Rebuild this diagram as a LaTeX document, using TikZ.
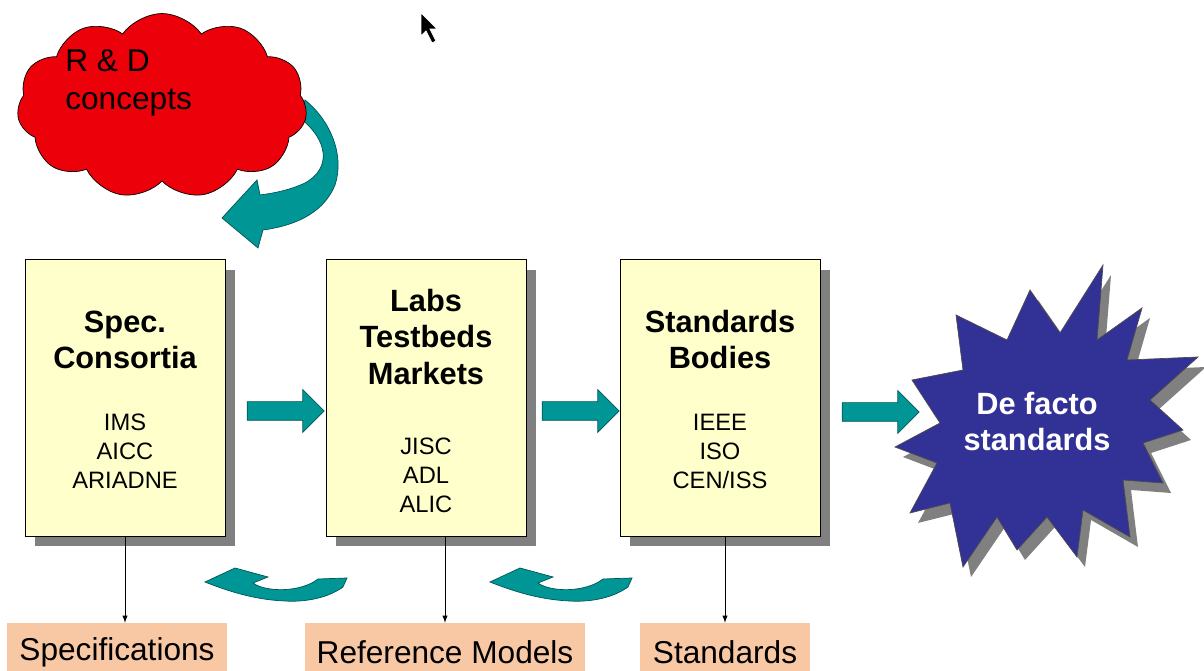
\documentclass[tikz,border=0pt]{standalone}
\usepackage{fontspec}
\setmainfont{Liberation Sans}
\usetikzlibrary{calc,positioning,shapes,arrows,shadows}

\definecolor{boxyellow}{RGB}{255,255,204}
\definecolor{labelpeach}{RGB}{248,200,165}
\definecolor{arrowteal}{RGB}{0,150,150}
\definecolor{tealedge}{RGB}{0,85,85}
\definecolor{cloudred}{RGB}{236,0,10}
\definecolor{starblue}{RGB}{50,50,150}
\definecolor{shadowgray}{RGB}{128,128,128}

\newcommand{\burstpath}{(956,315) -- (1007,340) -- (1030,290) -- (1060,333) -- (1103,265) -- (1097,340) -- (1142,308) -- (1127,360) -- (1198,357) -- (1150,400) -- (1183,430) -- (1143,443) -- (1163,483) -- (1123,480) -- (1130,537) -- (1083,510) -- (1077,557) -- (1047,517) -- (1017,550) -- (997,517) -- (963,567) -- (950,503) -- (910,513) -- (937,463) -- (895,447) -- (940,423) -- (912,380) -- (963,370) -- cycle}
\newcommand{\turnpath}{(205,582) -- (235,568) -- (268,577) -- (253,583) .. controls (265,592) and (300,593) .. (318,579) -- (347,578) -- (343,587) .. controls (325,600) and (300,602) .. (285,601) .. controls (260,600) and (235,594) .. (205,582) -- cycle}

\begin{document}
\begin{tikzpicture}[x=0.02cm,y=-0.02cm,inner sep=0.4mm,
  stage/.style={draw=black, fill=boxyellow, minimum width=4cm, minimum height=5.54cm,
    drop shadow={shadow xshift=0.2cm, shadow yshift=-0.2cm, fill=shadowgray, opacity=1}},
  stagetitle/.style={align=center, font=\fontsize{17.5}{20.5}\selectfont\bfseries},
  stagelist/.style={align=center, font=\fontsize{13.5}{16.5}\selectfont},
  outcome/.style={fill=labelpeach, minimum height=1.16cm, font=\fontsize{18}{21}\selectfont},
  flowarrow/.style={single arrow, draw=tealedge, fill=arrowteal, minimum height=1.54cm,
    text height=0.36cm, text depth=0pt, inner sep=0, single arrow head extend=0.24cm},
  turnarrow/.style={draw=tealedge, fill=arrowteal}]

\useasboundingbox (0,0) rectangle (1204,671);

\fill[black, draw=white] (421,13) -- (421,36) -- (426,31) -- (432,43) -- (436,41) -- (430,29) -- (437,29) -- cycle;

\draw[turnarrow] (300,118) .. controls (328,140) and (332,168) .. (305,183) .. controls (290,190) and (275,193) .. (260,195) -- (257,180) -- (222,218) -- (258,248) -- (263,230) .. controls (300,225) and (325,210) .. (335,185) .. controls (345,155) and (330,120) .. (305,100) -- cycle;

\node[cloud, cloud puffs=11, cloud puff arc=110, aspect=1.55, draw=black, fill=cloudred, minimum width=5.8cm, minimum height=3.7cm] (rd) at (162,106) {};
\node[font=\fontsize{18}{21.6}\selectfont, align=left, anchor=west] (rdtext) at (63,83) {R \& D\\concepts};

\node[stage] (b1) at (125,398) {};
\node[stage] (b2) at (426,398) {};
\node[stage] (b3) at (720,398) {};

\node[stagetitle] (t1) at (125,340) {Spec.\\Consortia};
\node[stagelist] (l1) at (125,451) {IMS\\AICC\\ARIADNE};
\node[stagetitle] (t2) at (426,337) {Labs\\Testbeds\\Markets};
\node[stagelist] (l2) at (426,475) {JISC\\ADL\\ALIC};
\node[stagetitle] (t3) at (720,340) {Standards\\Bodies};
\node[stagelist] (l3) at (720,451) {IEEE\\ISO\\CEN/ISS};

\node[flowarrow] (a1) at (281,411) {};
\node[flowarrow] (a2) at (576,411) {};
\node[flowarrow] (a3) at (876,412) {};

\fill[shadowgray, shift={(8,10)}] \burstpath;
\filldraw[fill=starblue, draw=black!70] \burstpath;
\node[font=\fontsize{17.5}{20.5}\selectfont\bfseries, text=white, align=center] (defacto) at (1037,422) {De facto\\standards};

\draw[turnarrow] \turnpath;
\draw[turnarrow, shift={(285,0)}] \turnpath;

\node[outcome, minimum width=4.4cm] (spec) at (117,652) {Specifications};
\node[outcome, minimum width=5.6cm] (rm) at (445,652) {Reference Models};
\node[outcome, minimum width=3.4cm] (std) at (725,652) {Standards};

\draw[-latex] (b1.south) -- (b1.south |- spec.north);
\draw[-latex] (rm.north |- b2.south) -- (rm.north);
\draw[-latex] (std.north |- b3.south) -- (std.north);

\end{tikzpicture}
\end{document}
